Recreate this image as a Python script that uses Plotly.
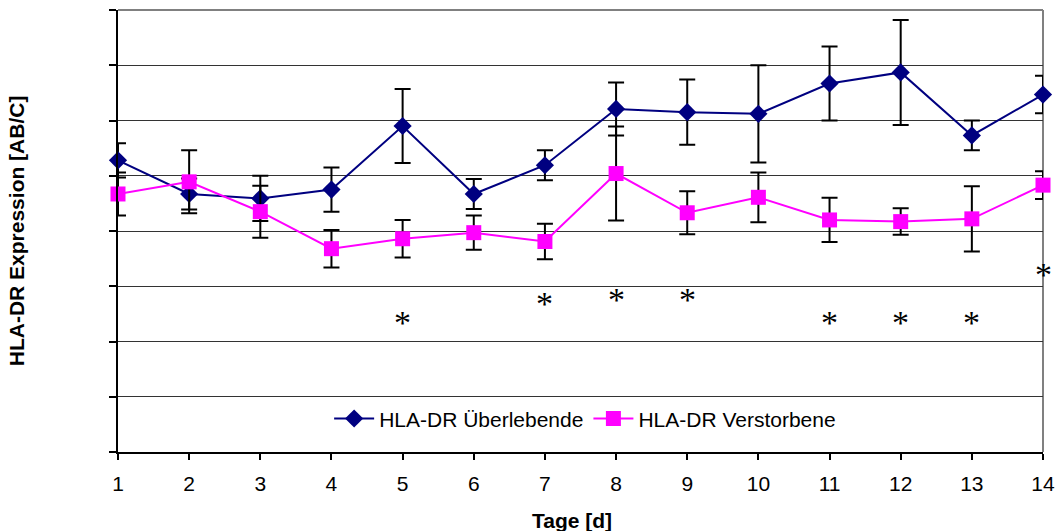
import plotly.graph_objects as go

# Tage nach Aufnahme
tage = list(range(1, 15))

# HLA-DR Expression (Mittelwert und Fehler) – Überlebende
ueberlebende = [5.28, 4.67, 4.59, 4.75, 5.90, 4.67, 5.19, 6.21, 6.15, 6.12, 6.67, 6.87, 5.73, 6.47]
ueberlebende_err = [0.31, 0.28, 0.41, 0.40, 0.67, 0.27, 0.27, 0.48, 0.59, 0.88, 0.67, 0.95, 0.27, 0.34]

# HLA-DR Expression (Mittelwert und Fehler) – Verstorbene
verstorbene = [4.67, 4.89, 4.35, 3.68, 3.86, 3.97, 3.81, 5.04, 4.33, 4.61, 4.20, 4.17, 4.22, 4.83]
verstorbene_err = [0.39, 0.57, 0.47, 0.34, 0.34, 0.31, 0.32, 0.85, 0.39, 0.45, 0.40, 0.24, 0.59, 0.25]

# Signifikanz-Sterne: Tag und Höhe
stern_tage = [5, 7, 8, 9, 11, 12, 13, 14]
stern_hoehe = [2.40, 2.74, 2.81, 2.81, 2.40, 2.40, 2.40, 3.27]

FONT = "Liberation Sans, Arial, sans-serif"
NAVY = "#000080"
MAGENTA = "#FF00FF"

fig = go.Figure()

fig.add_trace(go.Scatter(
    x=tage, y=ueberlebende, name="HLA-DR Überlebende",
    mode="lines+markers",
    line=dict(color=NAVY, width=2),
    marker=dict(symbol="diamond", size=14, color=NAVY),
    error_y=dict(type="data", array=ueberlebende_err, color="black", thickness=2, width=8),
    cliponaxis=False,
))

fig.add_trace(go.Scatter(
    x=tage, y=verstorbene, name="HLA-DR Verstorbene",
    mode="lines+markers",
    line=dict(color=MAGENTA, width=2),
    marker=dict(symbol="square", size=15, color=MAGENTA),
    error_y=dict(type="data", array=verstorbene_err, color="black", thickness=2, width=8),
    cliponaxis=False,
))

annotations = [
    dict(x=t, y=h, xref="x", yref="y", text="*", showarrow=False,
         font=dict(family="Liberation Serif, Times New Roman, serif", size=34, color="black"),
         yshift=-3)
    for t, h in zip(stern_tage, stern_hoehe)
]
annotations += [
    dict(x=0.491, y=-0.154, xref="paper", yref="paper", text="<b>Tage [d]</b>",
         showarrow=False, yanchor="middle",
         font=dict(family=FONT, size=21, color="black")),
    dict(x=-0.110, y=0.5, xref="paper", yref="paper", text="<b>HLA-DR Expression [AB/C]</b>",
         showarrow=False, textangle=-90, xanchor="center",
         font=dict(family=FONT, size=21, color="black")),
]

shapes = [
    dict(type="line", xref="paper", yref="paper", x0=0, x1=1, y0=1, y1=1,
         line=dict(color="#808080", width=2), layer="between"),
    dict(type="line", xref="paper", yref="paper", x0=1, x1=1, y0=0, y1=1,
         line=dict(color="#808080", width=2), layer="between"),
]

fig.update_layout(
    width=1056, height=531,
    margin=dict(l=118, r=13, t=10, b=79),
    paper_bgcolor="white", plot_bgcolor="white",
    font=dict(family=FONT, size=21, color="black"),
    showlegend=True,
    legend=dict(orientation="h", x=0.505, y=0.075, xanchor="center", yanchor="middle",
                bgcolor="rgba(0,0,0,0)", font=dict(size=21), itemwidth=40),
    annotations=annotations,
    shapes=shapes,
)

fig.update_xaxes(
    range=[1, 14], tickmode="array", tickvals=tage, ticktext=[str(t) for t in tage],
    showgrid=False, zeroline=False, automargin=False,
    showline=True, linecolor="black", linewidth=2,
    ticks="outside", ticklen=6, tickwidth=1.5, tickcolor="black",
    tickfont=dict(size=21), ticklabelstandoff=6,
)
fig.update_yaxes(
    range=[0, 8], dtick=1, showticklabels=False, automargin=False,
    showgrid=True, gridcolor="#333333", gridwidth=1, zeroline=False,
    showline=True, linecolor="black", linewidth=2,
    ticks="outside", ticklen=7, tickwidth=1.5, tickcolor="black",
)

fig.write_html("out.html")
